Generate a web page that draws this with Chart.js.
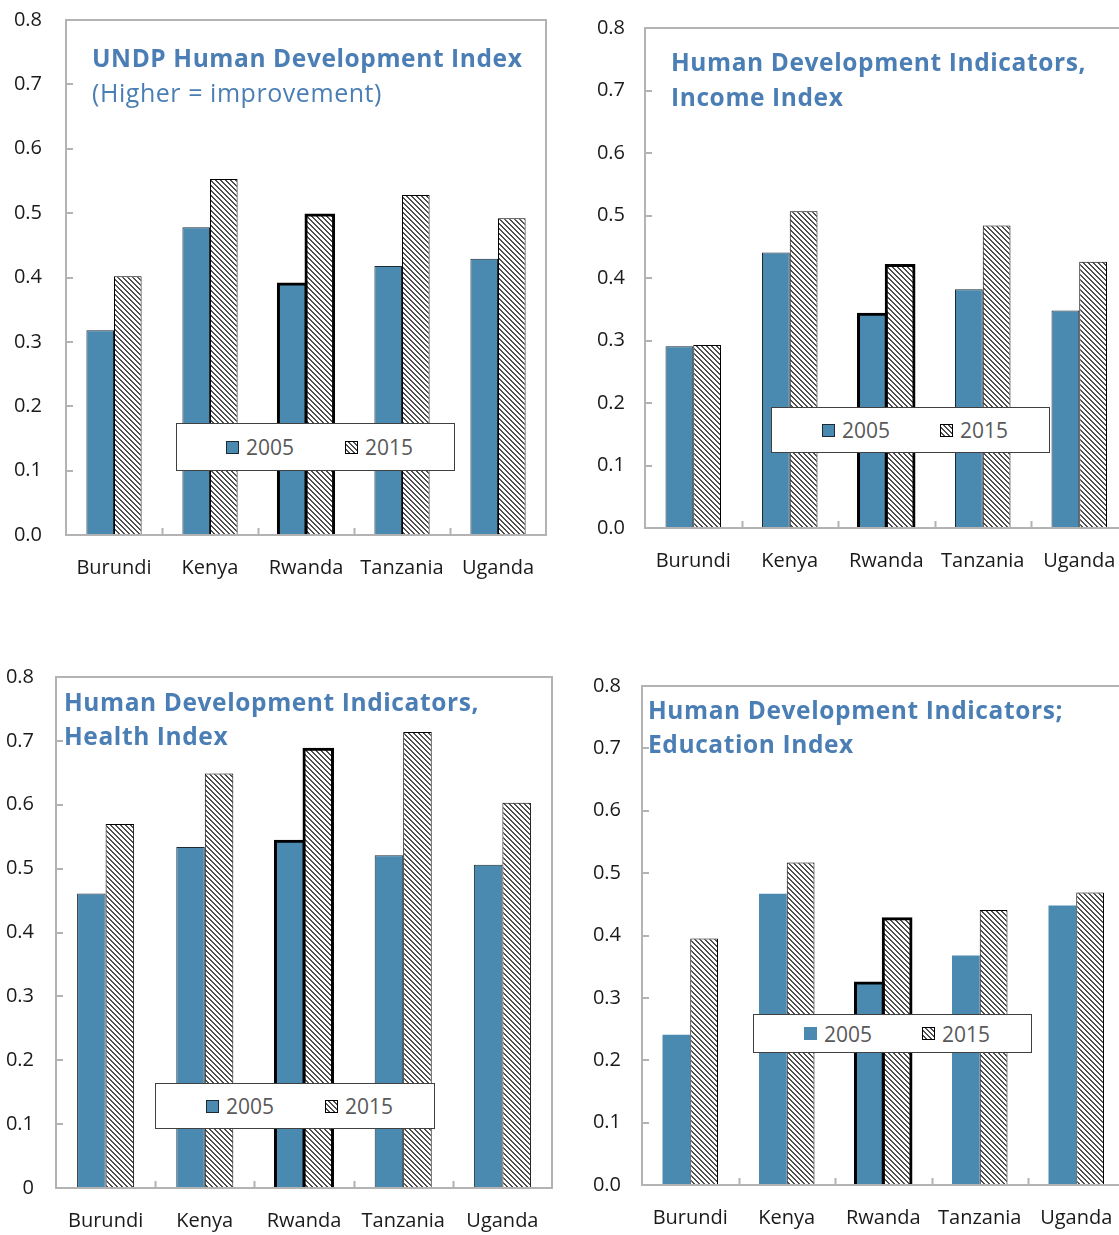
<!DOCTYPE html>
<html><head><meta charset="utf-8">
<script src="https://cdn.jsdelivr.net/npm/chart.js@4/dist/chart.umd.min.js"></script>
<style>
html,body{margin:0;padding:0;width:1119px;height:1235px;overflow:hidden;background:#fff;}
.box{position:absolute;}
.box canvas{display:block;}
.title{position:absolute;color:#4a7eb4;font:bold 24.5px 'Open Sans';letter-spacing:0.6px;line-height:35px;white-space:nowrap;z-index:2;}
.title .sub{font-weight:normal;font-size:25px;letter-spacing:0.55px;}
.legend{position:absolute;border:1px solid #404040;background:#fff;z-index:2;box-sizing:border-box;}
.legend span{position:absolute;}
.legend .txt{font:21px 'Open Sans';color:#595959;line-height:24px;}
.sw{width:13px;height:13px;box-sizing:border-box;}
</style></head>
<body>
<script>
// ---------- data ----------
const categories = ['Burundi', 'Kenya', 'Rwanda', 'Tanzania', 'Uganda'];
const seriesNames = ['2005', '2015'];
const hdi2005 = [0.318, 0.478, 0.390, 0.418, 0.429];
const hdi2015 = [0.402, 0.553, 0.497, 0.528, 0.492];
const income2005 = [0.291, 0.441, 0.342, 0.382, 0.348];
const income2015 = [0.293, 0.507, 0.420, 0.484, 0.426];
const health2005 = [0.461, 0.534, 0.543, 0.521, 0.506];
const health2015 = [0.570, 0.649, 0.687, 0.714, 0.603];
const edu2005 = [0.241, 0.467, 0.324, 0.368, 0.448];
const edu2015 = [0.395, 0.517, 0.427, 0.441, 0.469];
const yTickValues = [0, 0.1, 0.2, 0.3, 0.4, 0.5, 0.6, 0.7, 0.8];

// ---------- styles ----------
const BLUE = '#4a89b0';
const FONT = "'Open Sans'";

function hatchPattern() {
  const n = 5;
  const c = document.createElement('canvas');
  c.width = n; c.height = n;
  const g = c.getContext('2d');
  g.fillStyle = '#fff'; g.fillRect(0, 0, n, n);
  g.fillStyle = '#505050';
  for (let y = 0; y < n; y++) for (let x = 0; x < n; x++) {
    if (((x - y) % n + n) % n < 2) g.fillRect(x, y, 1, 1);
  }
  return document.createElement('canvas').getContext('2d').createPattern(c, 'repeat');
}
const HATCH = hatchPattern();

const frame = {
  id: 'frame',
  afterDatasetsDraw(chart) {
    const {ctx, chartArea: a, scales} = chart;
    ctx.save();
    ctx.strokeStyle = '#b3b3b3';
    ctx.lineWidth = 2;
    ctx.strokeRect(a.left, a.top, a.right - a.left, a.bottom - a.top);
    ctx.beginPath();
    yTickValues.forEach(v => {
      const y = Math.round(scales.y.getPixelForValue(v));
      ctx.moveTo(a.left, y); ctx.lineTo(a.left + 7, y);
    });
    const n = categories.length;
    const w = (a.right - a.left) / n;
    for (let i = 1; i < n; i++) {
      const x = Math.round(a.left + i * w) + 0.5;
      ctx.moveTo(x, a.bottom); ctx.lineTo(x, a.bottom - 7);
    }
    ctx.stroke();
    ctx.restore();
  }
};

function makeChart(cfg) {
  const box = document.createElement('div');
  box.className = 'box';
  Object.assign(box.style, {left: cfg.left + 'px', top: cfg.top + 'px', width: cfg.w + 'px', height: cfg.h + 'px'});
  const cv = document.createElement('canvas');
  box.appendChild(cv);
  document.body.appendChild(box);
  const isR = ctx => categories[ctx.dataIndex] === 'Rwanda';
  new Chart(cv, {
    type: 'bar',
    data: {
      labels: categories,
      datasets: [
        {label: seriesNames[0], data: cfg.d1, backgroundColor: BLUE,
         borderColor: ctx => isR(ctx) ? '#000' : '#1e2a33',
         borderWidth: ctx => isR(ctx) ? 3 : (cfg.border2005 ? 1 : 0),
         inflateAmount: ctx => isR(ctx) ? 1.5 : 'auto'},
        {label: seriesNames[1], data: cfg.d2, backgroundColor: HATCH,
         borderColor: '#000',
         borderWidth: ctx => isR(ctx) ? 3 : 1,
         inflateAmount: ctx => isR(ctx) ? 1.5 : 'auto'}
      ]
    },
    options: {
      responsive: true, maintainAspectRatio: false, animation: false,
      categoryPercentage: 0.575, barPercentage: 1,
      layout: {padding: {left: 0, top: cfg.pt, right: cfg.pr, bottom: 0}},
      plugins: {legend: {display: false}, tooltip: {enabled: false}},
      scales: {
        x: {
          grid: {display: false, drawTicks: false}, border: {display: false},
          ticks: {font: {family: FONT, size: 20}, color: '#1a1a1a', padding: 21, maxRotation: 0, autoSkip: false},
          afterFit: s => { s.height = cfg.xh; s.paddingLeft = 0; s.paddingRight = 0; }
        },
        y: {
          min: 0, max: 0.8,
          grid: {display: false, drawTicks: false}, border: {display: false},
          afterBuildTicks: s => { s.ticks = yTickValues.map(v => ({value: v})); },
          ticks: {font: {family: FONT, size: 20}, color: '#1a1a1a', padding: cfg.yp,
                  callback: v => (v === 0 && cfg.zeroPlain) ? '0' : v.toFixed(1)},
          afterFit: s => { s.width = cfg.yw; s.paddingTop = 0; s.paddingBottom = 0; }
        }
      }
    },
    plugins: [frame]
  });
}

function addTitle(left, top, lh, lines, subIdx) {
  const d = document.createElement('div');
  d.className = 'title';
  d.style.left = left + 'px'; d.style.top = top + 'px'; d.style.lineHeight = lh + 'px';
  lines.forEach((l, i) => {
    const e = document.createElement('div');
    if (i === subIdx) e.className = 'sub';
    e.textContent = l;
    d.appendChild(e);
  });
  document.body.appendChild(d);
}

function addLegend(l, t, w, h, x1, x2, border2005) {
  const d = document.createElement('div');
  d.className = 'legend';
  Object.assign(d.style, {left: l + 'px', top: t + 'px', width: w + 'px', height: h + 'px'});
  const cy = h / 2 - 1;
  const s1 = document.createElement('span'); s1.className = 'sw';
  Object.assign(s1.style, {left: x1 + 'px', top: (cy - 6.5) + 'px', background: BLUE, border: border2005 ? '1px solid #1e2a33' : 'none'});
  const t1 = document.createElement('span'); t1.className = 'txt'; t1.textContent = seriesNames[0];
  Object.assign(t1.style, {left: (x1 + 20) + 'px', top: (cy - 12) + 'px'});
  const s2 = document.createElement('span'); s2.className = 'sw';
  Object.assign(s2.style, {left: x2 + 'px', top: (cy - 6.5) + 'px', border: '1.5px solid #000',
    background: 'repeating-linear-gradient(45deg,#fff 0 2px,#505050 2px 3.5px)'});
  const t2 = document.createElement('span'); t2.className = 'txt'; t2.textContent = seriesNames[1];
  Object.assign(t2.style, {left: (x2 + 20) + 'px', top: (cy - 12) + 'px'});
  [s1, t1, s2, t2].forEach(e => d.appendChild(e));
  document.body.appendChild(d);
}

// Top-left: HDI
makeChart({left: 0, top: 0, w: 560, h: 600, pt: 20, pr: 14, yw: 66, xh: 65, yp: 24, d1: hdi2005, d2: hdi2015, border2005: true});
addTitle(92, 39.5, 35, ['UNDP Human Development Index', '(Higher = improvement)'], 1);
addLegend(176, 423, 279, 48, 49, 168, true);

// Top-right: Income
makeChart({left: 570, top: 0, w: 570, h: 600, pt: 28, pr: 12.5, yw: 75, xh: 72, yp: 20, d1: income2005, d2: income2015, border2005: true});
addTitle(671, 43.5, 35, ['Human Development Indicators,', 'Income Index'], -1);
addLegend(771, 407, 279, 46, 50, 168, true);

// Bottom-left: Health
makeChart({left: 0, top: 640, w: 570, h: 595, pt: 37, pr: 18, yw: 56, xh: 47, yp: 22, zeroPlain: true, d1: health2005, d2: health2015, border2005: true});
addTitle(64, 685, 34, ['Human Development Indicators,', 'Health Index'], -1);
addLegend(155, 1083, 280, 46, 50, 169, true);

// Bottom-right: Education
makeChart({left: 570, top: 640, w: 570, h: 595, pt: 46, pr: 15.5, yw: 72, xh: 50, yp: 21, d1: edu2005, d2: edu2015, border2005: false});
addTitle(648, 693, 34, ['Human Development Indicators;', 'Education Index'], -1);
addLegend(753, 1014, 279, 39, 50, 168, false);
</script>
</body></html>
